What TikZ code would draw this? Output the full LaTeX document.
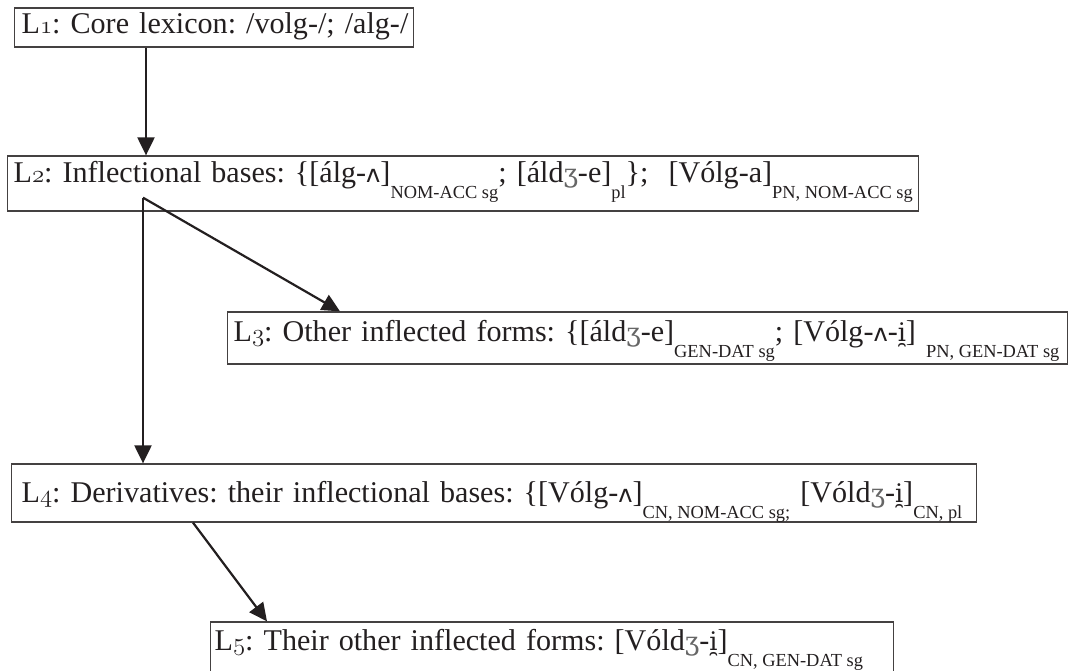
\documentclass[tikz,border=0pt]{standalone}
\usepackage{fontspec}
\setmainfont{Liberation Serif}
\newfontfamily\dvserif{DejaVu Serif}[Scale=0.85]
\newfontfamily\dvsans{DejaVu Sans}[Scale=0.8]
\usetikzlibrary{arrows.meta,calc}
\definecolor{ink}{HTML}{231F20}
\frenchspacing
\newcommand\osn[1]{{\fontencoding{OML}\fontfamily{cmm}\fontseries{m}\fontshape{it}\selectfont #1}}
\newcommand\zh{{\dvserif\color{black!60}ʒ}}
\newcommand\wg{{\dvsans ʌ}}
\newcommand\iy{{\dvserif i̯}}
\newcommand\gap{\hspace{0.25em}}
\newcommand\sbs[1]{\raisebox{-16pt}{\fontsize{18.4}{20}\selectfont #1}}
\tikzset{
  lvlbox/.style={draw=ink!85, line width=1.3pt, anchor=base west, inner ysep=0pt,
    align=left, text=ink, font=\fontsize{30.1}{36}\selectfont},
  arr/.style={-{Triangle[length=18pt,width=17pt]}, line width=2.2pt, draw=ink}
}
\begin{document}
\begin{tikzpicture}[x=1pt,y=1pt]
\useasboundingbox (0,0) rectangle (1071,-670);
\node[lvlbox, inner xsep=7pt, text width=385pt, text height=25pt, text depth=14pt] (l1) at (14,-33)
  {\mbox{L\osn{1}: Core lexicon: /volg-/; /alg-/}};
\node[lvlbox, inner xsep=6pt, text width=899pt, text height=26pt, text depth=29pt] (l2) at (7,-182)
  {\mbox{L\osn{2}: Inflectional bases: \{[álg-\wg]\sbs{NOM-ACC\gap sg}; [áld\zh-e]\sbs{pl}\};\ \ [Vólg-a]\sbs{PN,\gap NOM-ACC\gap sg}}};
\node[lvlbox, inner xsep=6pt, text width=828pt, text height=29pt, text depth=23pt] (l3) at (227,-341)
  {\mbox{L\osn{3}: Other inflected forms: \{[áld\zh-e]\sbs{GEN-DAT\gap sg}; [Vólg-\wg-\iy] \sbs{PN,\gap GEN-DAT\gap sg}}};
\node[lvlbox, inner xsep=10pt, text width=945pt, text height=38pt, text depth=20pt] (l4) at (11,-502)
  {\mbox{L\osn{4}: Derivatives: their inflectional bases: \{[Vólg-\wg]\sbs{CN,\gap NOM-ACC\gap sg;} [Vóld\zh-\iy]\sbs{CN,\gap pl}}};
\node[lvlbox, inner xsep=4pt, text width=675pt, text height=28pt, text depth=40pt] (l5) at (210,-650)
  {\mbox{L\osn{5}: Their other inflected forms: [Vóld\zh-\iy]\sbs{CN,\gap GEN-DAT\gap sg}}};
\coordinate (b2) at ($(l2.south west)+(136,14)$);
\draw[arr] ($(l1.south west)+(132,0)$) -- ($(l2.north west)+(139,0)$);
\draw[arr] (b2) -- ($(l4.north west)+(132,0)$);
\draw[arr] (b2) -- ($(l3.north west)+(113,0)$);
\draw[arr] ($(l4.south west)+(182,0)$) -- ($(l5.north west)+(57,0)$);
\end{tikzpicture}
\end{document}
